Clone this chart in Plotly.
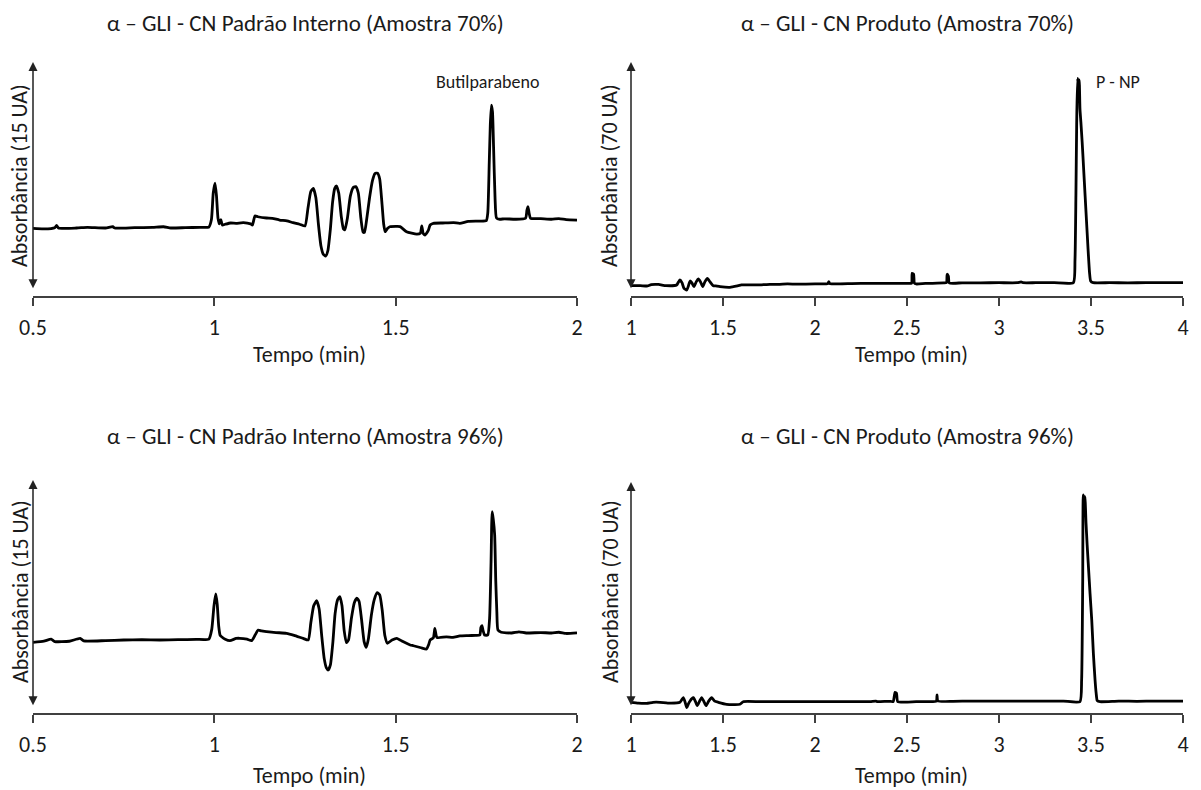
import plotly.graph_objects as go

# ---------------- data ----------------
# Top-left: Padrão Interno (Amostra 70%)  -- absorbance in UA (arrow = 15 UA)
tl_t = [0.50, 0.53, 0.56, 0.565, 0.57, 0.62, 0.65, 0.70, 0.72, 0.725, 0.78, 0.83, 0.86, 0.88, 0.92, 0.96,
        0.985, 0.992, 0.997, 1.002, 1.006, 1.010, 1.014, 1.018, 1.022, 1.03, 1.045, 1.06, 1.08, 1.10, 1.105,
        1.112, 1.12, 1.144, 1.16, 1.18, 1.20, 1.217, 1.235, 1.25, 1.258, 1.266, 1.273, 1.28, 1.287, 1.294,
        1.30, 1.307, 1.313, 1.32, 1.326, 1.332, 1.337, 1.343, 1.35, 1.356, 1.36, 1.367, 1.375, 1.383, 1.39,
        1.397, 1.404, 1.41, 1.414, 1.42, 1.428, 1.436, 1.443, 1.45, 1.456, 1.462, 1.467, 1.471, 1.478, 1.484,
        1.50, 1.512, 1.53, 1.558, 1.568, 1.572, 1.576, 1.581, 1.59, 1.595, 1.604, 1.63, 1.66, 1.677, 1.70,
        1.73, 1.75, 1.754, 1.758, 1.761, 1.764, 1.767, 1.770, 1.774, 1.778, 1.787, 1.80, 1.83, 1.858, 1.862,
        1.865, 1.868, 1.872, 1.90, 1.93, 1.95, 1.97, 2.0]
tl_a = [4.33, 4.30, 4.38, 4.52, 4.36, 4.36, 4.40, 4.36, 4.44, 4.36, 4.38, 4.40, 4.44, 4.36, 4.38, 4.40,
        4.42, 4.9, 6.6, 7.24, 6.4, 5.0, 4.62, 4.9, 4.55, 4.60, 4.68, 4.66, 4.70, 4.62, 4.55,
        5.13, 5.08, 5.00, 4.98, 4.87, 4.82, 4.70, 4.60, 4.49, 5.6, 6.7, 6.90, 6.3, 4.6, 3.2,
        2.7, 2.56, 2.9, 4.3, 6.0, 6.9, 7.05, 6.6, 5.1, 4.3, 4.25, 5.0, 6.4, 6.95, 7.01,
        6.6, 5.0, 4.1, 4.08, 4.9, 6.3, 7.4, 7.85, 7.87, 7.5, 6.0, 4.6, 4.12, 4.35, 4.44,
        4.46, 4.45, 4.12, 3.97, 4.02, 4.49, 4.00, 3.91, 4.2, 4.55, 4.66, 4.68, 4.70, 4.66, 4.78,
        4.80, 4.83, 5.32, 8.5, 11.0, 12.24, 11.8, 9.5, 6.3, 5.0, 4.92, 4.95, 4.92, 4.98, 5.50,
        5.72, 5.3, 4.98, 4.96, 4.92, 4.96, 4.90, 4.87]

# Bottom-left: Padrão Interno (Amostra 96%)
bl_t = [0.50, 0.53, 0.55, 0.56, 0.60, 0.63, 0.64, 0.70, 0.75, 0.80, 0.85, 0.90, 0.95, 0.985, 0.993, 0.999,
        1.004, 1.008, 1.012, 1.016, 1.02, 1.03, 1.043, 1.06, 1.07, 1.09, 1.103, 1.112, 1.121, 1.13, 1.144,
        1.17, 1.199, 1.22, 1.245, 1.259, 1.266, 1.274, 1.282, 1.289, 1.296, 1.303, 1.309, 1.314, 1.32, 1.327,
        1.333, 1.34, 1.346, 1.352, 1.358, 1.364, 1.37, 1.378, 1.386, 1.393, 1.399, 1.406, 1.413, 1.419, 1.425,
        1.433, 1.441, 1.449, 1.456, 1.463, 1.47, 1.477, 1.49, 1.503, 1.52, 1.54, 1.549, 1.57, 1.585, 1.591,
        1.595, 1.604, 1.608, 1.612, 1.615, 1.64, 1.658, 1.677, 1.70, 1.72, 1.732, 1.735, 1.738, 1.741, 1.745,
        1.754, 1.759, 1.763, 1.766, 1.769, 1.773, 1.776, 1.779, 1.782, 1.791, 1.82, 1.84, 1.86, 1.90, 1.93,
        1.95, 1.97, 2.0]
bl_a = [4.55, 4.62, 4.75, 4.60, 4.62, 4.80, 4.64, 4.66, 4.70, 4.72, 4.70, 4.72, 4.74, 4.76, 5.4, 6.9,
        7.66, 7.0, 5.6, 5.0, 4.91, 4.75, 4.66, 4.80, 4.81, 4.75, 4.66, 5.0, 5.34, 5.28, 5.24,
        5.18, 5.13, 5.00, 4.80, 4.70, 5.8, 6.9, 7.23, 6.7, 5.0, 3.5, 2.9, 2.77, 3.1, 4.6,
        6.4, 7.3, 7.49, 6.9, 5.3, 4.53, 4.7, 6.1, 7.1, 7.39, 7.2, 6.0, 4.6, 4.23, 4.8,
        6.3, 7.3, 7.75, 7.6, 6.6, 5.0, 4.49, 4.70, 4.81, 4.60, 4.38, 4.33, 4.20, 4.12, 4.40,
        4.70, 4.85, 5.45, 4.95, 4.85, 4.90, 4.87, 4.96, 4.98, 5.00, 5.02, 5.50, 5.62, 5.3, 5.02,
        5.02, 6.1, 9.7, 12.96, 12.5, 11.46, 8.5, 6.5, 5.34, 5.20, 5.15, 5.22, 5.15, 5.18, 5.15,
        5.20, 5.12, 5.16]

# Top-right: Produto (Amostra 70%)  -- absorbance in UA (arrow = 70 UA)
tr_t = [1.00, 1.05, 1.09, 1.11, 1.15, 1.19, 1.248, 1.258, 1.266, 1.277, 1.288, 1.303, 1.312, 1.321, 1.33,
        1.342, 1.355, 1.366, 1.378, 1.39, 1.402, 1.415, 1.43, 1.447, 1.46, 1.484, 1.538, 1.583, 1.60, 1.70,
        1.755, 1.80, 1.85, 1.90, 2.0, 2.07, 2.075, 2.08, 2.2, 2.3, 2.4, 2.498, 2.525, 2.528, 2.536, 2.54,
        2.55, 2.6, 2.7, 2.715, 2.718, 2.725, 2.73, 2.8, 2.9, 3.0, 3.1, 3.12, 3.13, 3.2, 3.3, 3.404, 3.413,
        3.418, 3.422, 3.427, 3.432, 3.436, 3.44, 3.445, 3.452, 3.46, 3.468, 3.476, 3.484, 3.492, 3.498,
        3.512, 3.6, 3.7, 3.8, 3.9, 4.0]
tr_a = [3.08, 3.10, 3.0, 3.40, 3.45, 3.10, 3.29, 4.2, 4.79, 4.0, 2.3, 1.79, 3.0, 4.49, 4.0,
        2.78, 4.3, 5.09, 4.2, 2.78, 4.3, 5.29, 4.2, 3.08, 3.0, 2.78, 2.60, 3.08, 3.30, 3.35,
        3.50, 3.45, 3.60, 3.55, 3.62, 3.70, 4.3, 3.72, 3.70, 3.80, 3.78, 3.80, 3.85, 6.79, 6.5, 3.9,
        3.6, 3.75, 3.90, 4.0, 6.5, 5.9, 3.9, 3.95, 3.95, 3.98, 3.98, 4.2, 3.98, 3.98, 3.98, 3.98, 10.77,
        30.0, 50.64, 65.12, 63.0, 64.61, 56.0, 52.0, 46.0, 38.0, 30.0, 22.0, 14.0, 7.0, 4.5,
        3.98, 3.98, 3.95, 3.98, 3.98, 3.98]

# Bottom-right: Produto (Amostra 96%)
br_t = [1.00, 1.04, 1.085, 1.12, 1.158, 1.20, 1.266, 1.284, 1.293, 1.303, 1.312, 1.321, 1.33, 1.339, 1.35,
        1.36, 1.372, 1.384, 1.396, 1.408, 1.422, 1.438, 1.455, 1.475, 1.52, 1.592, 1.61, 1.70, 1.80, 1.90,
        2.0, 2.1, 2.2, 2.3, 2.33, 2.34, 2.41, 2.425, 2.435, 2.443, 2.45, 2.55, 2.62, 2.66, 2.663, 2.668,
        2.75, 2.85, 2.95, 3.05, 3.15, 3.25, 3.35, 3.44, 3.449, 3.455, 3.458, 3.463, 3.467, 3.473, 3.479,
        3.485, 3.495, 3.504, 3.513, 3.522, 3.528, 3.534, 3.549, 3.65, 3.75, 3.85, 3.95, 4.0]
br_a = [3.24, 3.0, 2.94, 3.24, 3.24, 3.0, 3.24, 4.64, 3.5, 1.61, 2.8, 3.64, 4.3, 4.64, 3.5,
        2.21, 3.5, 4.64, 3.5, 2.21, 3.6, 4.64, 3.6, 3.24, 2.64, 2.64, 3.42, 3.42, 3.45, 3.42,
        3.42, 3.45, 3.42, 3.45, 3.60, 3.45, 3.55, 3.42, 6.27, 6.0, 3.42, 3.45, 3.45, 3.64, 5.45, 3.64,
        3.55, 3.60, 3.58, 3.60, 3.62, 3.60, 3.62, 3.42, 10.0, 40.3, 66.06, 63.5, 65.55, 57.48, 51.0,
        45.36, 36.0, 28.18, 18.0, 10.0, 6.0, 3.73, 3.42, 3.60, 3.55, 3.62, 3.58, 3.60]

# axis / label texts
left_ticks = [0.5, 1, 1.5, 2]
left_tick_text = ["0.5", "1", "1.5", "2"]
right_ticks = [1, 1.5, 2, 2.5, 3, 3.5, 4]
right_tick_text = ["1", "1.5", "2", "2.5", "3", "3.5", "4"]
titles = ["\u03b1 \u2013 GLI - CN Padrão Interno (Amostra 70%)",
          "\u03b1 \u2013 GLI - CN Produto (Amostra 70%)",
          "\u03b1 \u2013 GLI - CN Padrão Interno (Amostra 96%)",
          "\u03b1 \u2013 GLI - CN Produto (Amostra 96%)"]
ytitles = ["Absorbância (15 UA)", "Absorbância (70 UA)", "Absorbância (15 UA)", "Absorbância (70 UA)"]
xtitle = "Tempo (min)"
peak_labels = ["Butilparabeno", "P - NP"]

# ---------------- figure ----------------
W, H = 1201, 790
FONT = "Carlito, Lato, 'Open Sans', sans-serif"
TXT = "#1a1a1a"
AX = "#404040"

def px(x):
    return x / W

def py(y):
    return 1 - y / H

# panel geometry (pixels): x0, x1, y_bottom(axis line), y_top
panels = [
    (33, 577, 296, 62),
    (631, 1183, 296, 62),
    (33, 577, 713, 480),
    (631, 1183, 713, 482),
]
xranges = [[0.5, 2], [1, 4], [0.5, 2], [1, 4]]
yranges = [[0, 15], [0, 70], [0, 15], [0, 70]]
data = [(tl_t, tl_a), (tr_t, tr_a), (bl_t, bl_a), (br_t, br_a)]

fig = go.Figure()
layout = dict(
    width=W, height=H,
    margin=dict(l=0, r=0, t=0, b=0, autoexpand=False),
    paper_bgcolor="white", plot_bgcolor="white",
    showlegend=False,
    font=dict(family=FONT, color=TXT),
)
annotations = []

for i, ((x0, x1, yb, yt), (tt, aa)) in enumerate(zip(panels, data)):
    n = "" if i == 0 else str(i + 1)
    xa, ya = "x" + n, "y" + n
    fig.add_trace(go.Scatter(x=tt, y=aa, mode="lines", xaxis=xa, yaxis=ya,
                             line=dict(color="black", width=2.8, shape="spline", smoothing=0.5),
                             hoverinfo="skip"))
    left = i % 2 == 0
    layout["xaxis" + n] = dict(
        domain=[px(x0), px(x1)], anchor=ya, range=xranges[i],
        showline=True, linecolor=AX, linewidth=1.5, mirror=False,
        ticks="outside", ticklen=8, tickwidth=1.5, tickcolor=AX,
        tickvals=left_ticks if left else right_ticks,
        ticktext=left_tick_text if left else right_tick_text,
        tickfont=dict(size=22, family=FONT, color=TXT),
        ticklabelstandoff=3,
        automargin=False,
        showgrid=False, zeroline=False, fixedrange=True,
    )
    layout["yaxis" + n] = dict(
        domain=[py(yb), py(yt)], anchor=xa, range=yranges[i],
        visible=False, fixedrange=True, automargin=False,
    )
    # vertical double arrow (absorbance scale bar)
    ymax = yranges[i][1]
    annotations.append(dict(
        xref=xa, yref=ya, axref=xa, ayref=ya,
        x=xranges[i][0], y=ymax, ax=xranges[i][0], ay=ymax * 0.027,
        text="", showarrow=True, arrowhead=2, arrowside="end+start",
        arrowsize=1.2, arrowwidth=1.5, arrowcolor="#222", standoff=0, startstandoff=0,
    ))
    # panel title
    ty = 23 if i < 2 else 436
    annotations.append(dict(
        xref="paper", yref="paper", x=px((x0 + x1) / 2), y=py(ty),
        text=titles[i], showarrow=False, xanchor="center", yanchor="middle",
        font=dict(size=23, family=FONT, color=TXT),
    ))
    # x-axis title
    xty = 355 if i < 2 else 775
    annotations.append(dict(
        xref="paper", yref="paper", x=px((x0 + x1) / 2 + 4), y=py(xty),
        text=xtitle, showarrow=False, xanchor="center", yanchor="middle",
        font=dict(size=22, family=FONT, color=TXT),
    ))
    # y-axis title (rotated)
    ycx = 20 if left else 610
    ycy = 176 if i < 2 else 592
    annotations.append(dict(
        xref="paper", yref="paper", x=px(ycx), y=py(ycy),
        text=ytitles[i], showarrow=False, textangle=-90,
        xanchor="center", yanchor="middle",
        font=dict(size=22, family=FONT, color=TXT),
    ))

# peak labels
annotations.append(dict(xref="x", yref="y", x=1.754, y=13.7, text=peak_labels[0], showarrow=False,
                        xanchor="center", yanchor="middle", font=dict(size=18, family=FONT, color=TXT)))
annotations.append(dict(xref="x2", yref="y2", x=3.647, y=64.0, text=peak_labels[1], showarrow=False,
                        xanchor="center", yanchor="middle", font=dict(size=18, family=FONT, color=TXT)))

layout["annotations"] = annotations
fig.update_layout(**layout)
fig.write_html("out.html")
